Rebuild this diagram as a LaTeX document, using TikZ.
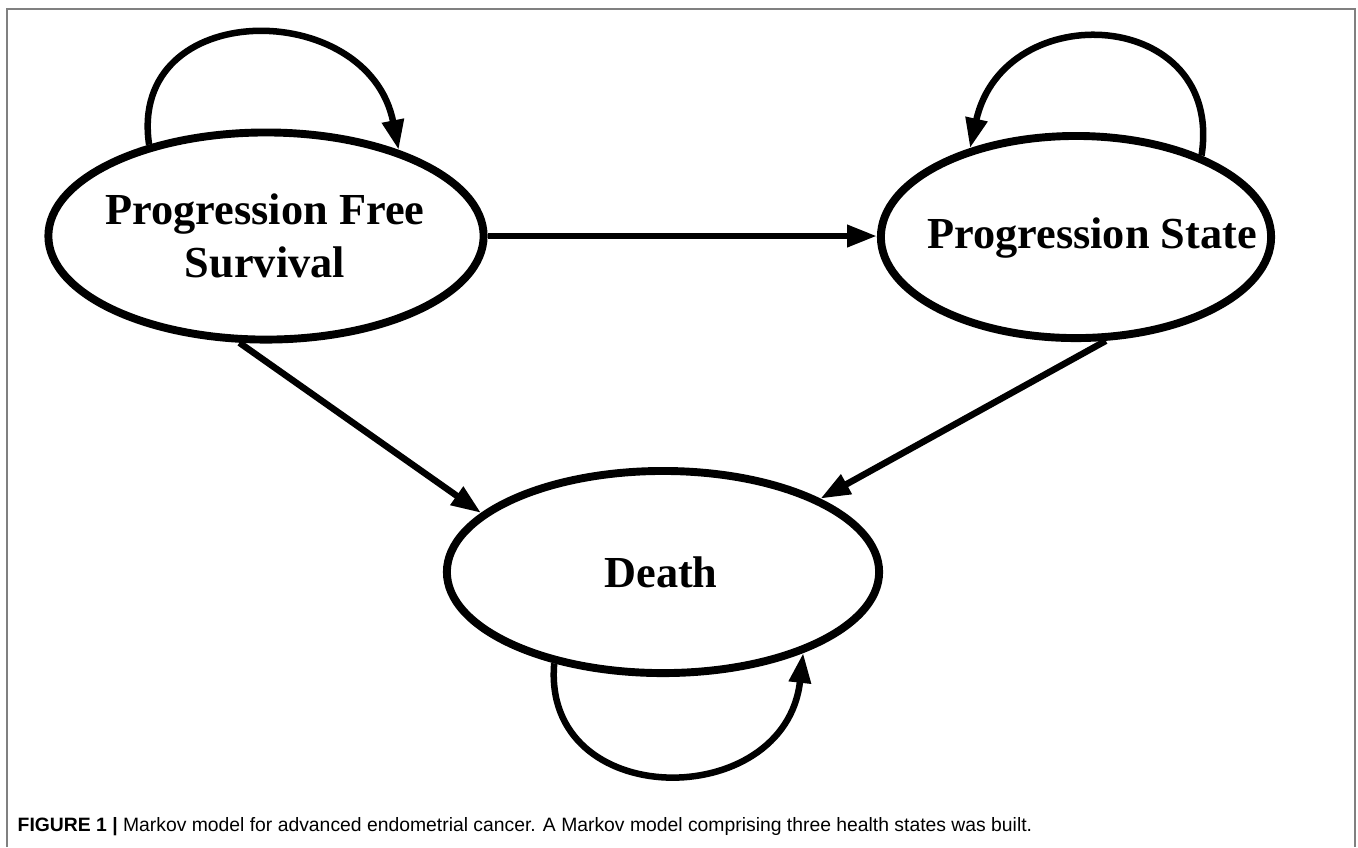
\documentclass[tikz,border=0pt]{standalone}
\usepackage{fontspec}
\setmainfont{Liberation Serif}
\newfontfamily\capfont{Liberation Sans}
\usetikzlibrary{shapes.geometric,arrows.meta}
\begin{document}
\begin{tikzpicture}[x=0.01cm,y=-0.01cm,
  state/.style={draw, ellipse, line width=2.25pt, inner sep=0pt},
  statetext/.style={align=center, inner sep=0pt, font=\fontsize{12.6}{15.1}\selectfont\bfseries},
  link/.style={line width=1.85pt, -{Triangle[length=8.5pt,width=6pt]}},
  frame/.style={draw=gray, line width=0.45pt}]
\useasboundingbox (0,0) rectangle (1358,847);
\draw[frame] (7,847) -- (7,9) -- (1355,9) -- (1355,847);
\node[state, minimum width=4.35cm, minimum height=2.07cm] (pfs) at (266,236) {};
\node[state, minimum width=3.9cm, minimum height=2.02cm] (ps) at (1076,237) {};
\node[state, minimum width=4.32cm, minimum height=2.02cm] (death) at (663,572) {};
\node[statetext] (pfst) at (265,236) {Progression Free\\Survival};
\node[statetext, anchor=base] (pst) at (1092,248) {Progression State};
\node[statetext, anchor=base] (deatht) at (661,587) {Death};
\draw[link] (pfs.east) -- (pfs.east -| ps.west);
\draw[link] (pfs.256) -- (death.162);
\draw[link] (ps.286) -- (death.25);
\draw[link] (pfs.142) .. controls +(-22,-148) and +(-30,-153) .. (pfs.33);
\draw[link] (ps.33) .. controls +(23,-148) and +(34,-153) .. (ps.140);
\draw[link] (death.220) .. controls +(-13,149) and +(-18,160) .. (death.330);
\node[anchor=base west, inner sep=0pt, font=\capfont\fontsize{5.5}{6.5}\selectfont] (cap) at (17,831) {\textbf{FIGURE 1 |} Markov model for advanced endometrial cancer. A Markov model comprising three health states was built.};
\end{tikzpicture}
\end{document}
